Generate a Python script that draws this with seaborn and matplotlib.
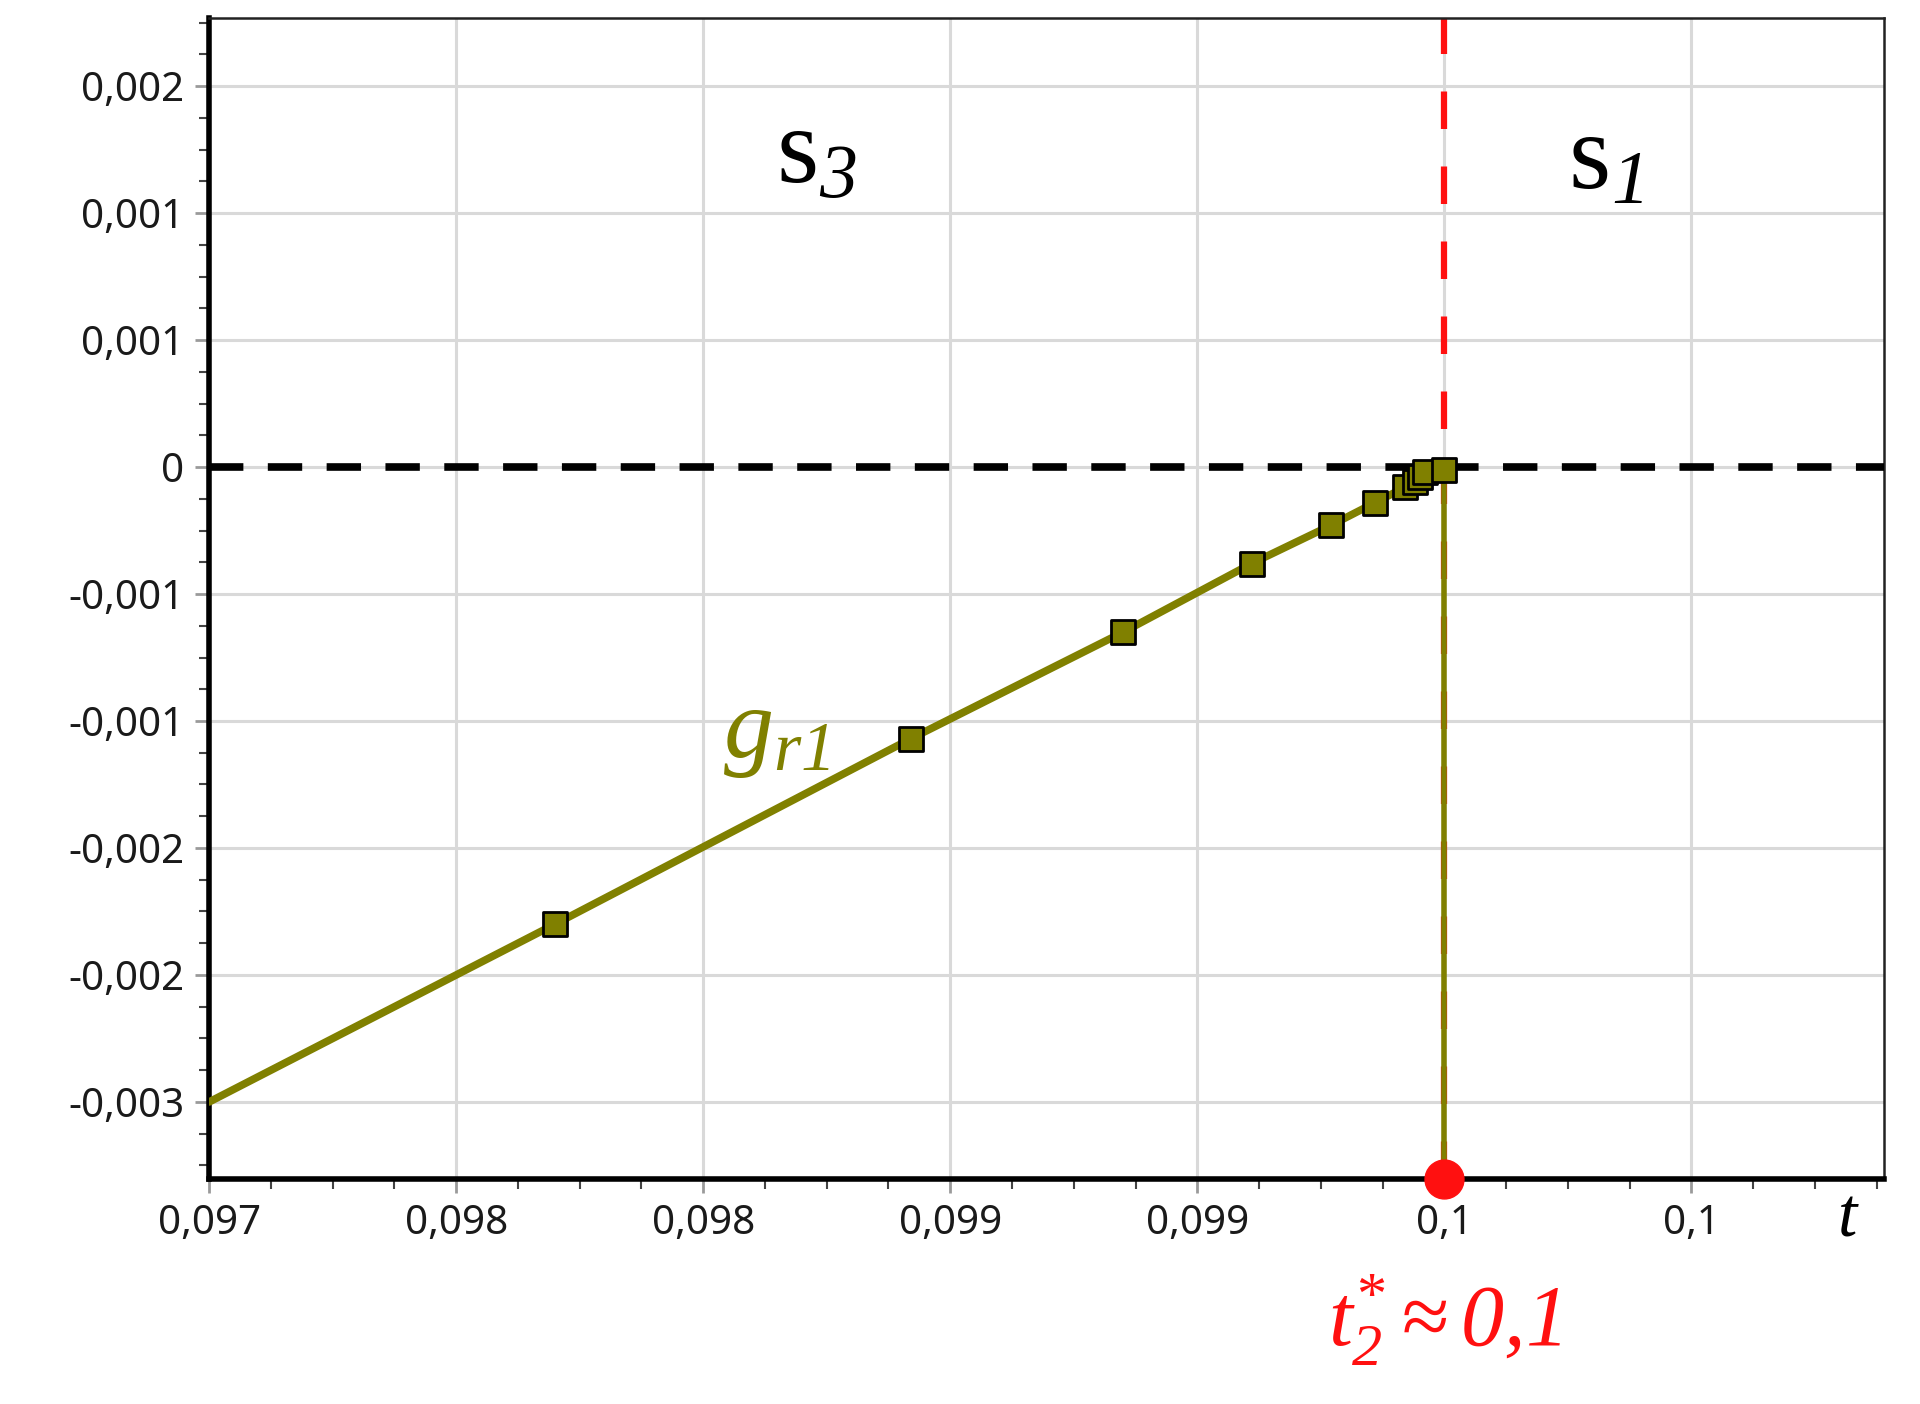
from decimal import Decimal, ROUND_HALF_UP

import numpy as np
import pandas as pd
import matplotlib
matplotlib.use("Agg")
import matplotlib.pyplot as plt
import seaborn as sns
from matplotlib.ticker import MultipleLocator, AutoMinorLocator, FuncFormatter

# iterates of g_r1 on the way to the switching time t2*
t_iter = [0.09770, 0.09842, 0.09885, 0.09911, 0.09927, 0.09936,
          0.09942, 0.09944, 0.09945, 0.09946, 0.09950]
g_iter = [-0.00180, -0.00107, -0.00065, -0.00038, -0.00023, -0.00014,
          -0.00008, -0.00006, -0.00004, -0.00002, -0.00001]

# the line g_r1 itself (start point, iterates, root)
t_line = [0.09700] + t_iter + [0.09950]
g_line = [-0.00250] + g_iter + [0.0]

t_star = 0.09950
x_min, x_max = 0.09700, 0.10039
y_min, y_max = -0.002803, 0.001768

olive = "#808000"
red = "#ff1010"

sns.set_theme(style="whitegrid")
plt.rcParams["font.family"] = ["Noto Sans", "DejaVu Sans"]
plt.rcParams["mathtext.fontset"] = "custom"
plt.rcParams["mathtext.rm"] = "Liberation Serif"
plt.rcParams["mathtext.it"] = "Liberation Serif:italic"
# italic digits: mathtext renders digits of \mathit upright, so use sf slot
plt.rcParams["mathtext.sf"] = "Liberation Serif:italic"


def fmt(v, pos=None):
    d = Decimal(str(round(float(v), 10))).quantize(Decimal("0.001"), rounding=ROUND_HALF_UP)
    if d == 0:
        return "0"
    s = format(d.normalize(), "f")
    return s.replace(".", ",")


fig = plt.figure(figsize=(19.2, 14.04), dpi=100)
ax = fig.add_axes([0.1089, 0.1603, 0.8724, 0.8269])
ax.set_facecolor("white")

# switching line and zero level
ax.axvline(t_star, color=red, linewidth=4.5, dashes=(6, 6), zorder=2)
ax.axhline(0, color="black", linewidth=5.5, dashes=(4.5, 3.2), zorder=3)

line_df = pd.DataFrame({"t": t_line, "g": g_line})
sns.lineplot(data=line_df, x="t", y="g", sort=False, color=olive,
             linewidth=5.5, ax=ax, zorder=4)
ax.plot([t_star, t_star], [0, y_min], color=olive, linewidth=4, zorder=4)

iter_df = pd.DataFrame({"t": t_iter, "g": g_iter})
sns.scatterplot(data=iter_df, x="t", y="g", marker="s", s=300, color=olive,
                edgecolor="black", linewidth=2, ax=ax, zorder=5)

ax.plot([t_star], [y_min], marker="o", markersize=28, color=red,
        clip_on=False, zorder=6)

ax.set_xlabel("")
ax.set_ylabel("")

ax.set_xlim(x_min, x_max)
ax.set_ylim(y_min, y_max)
ax.xaxis.set_major_locator(MultipleLocator(0.0005))
ax.yaxis.set_major_locator(MultipleLocator(0.0005))
ax.xaxis.set_minor_locator(AutoMinorLocator(4))
ax.yaxis.set_minor_locator(AutoMinorLocator(4))
ax.xaxis.set_major_formatter(FuncFormatter(fmt))
ax.yaxis.set_major_formatter(FuncFormatter(fmt))

ax.grid(True, which="major", color="#d9d9d9", linewidth=2.2)
ax.grid(False, which="minor")

ax.tick_params(axis="both", which="major", direction="out", length=10, width=2,
               color="#9a9a9a", labelsize=29, labelcolor="#1a1a1a", pad=8)
ax.tick_params(axis="both", which="minor", direction="out", length=7, width=1.5,
               color="#444444")
ax.tick_params(axis="x", which="both", bottom=True)
ax.tick_params(axis="y", which="both", left=True)

for side in ["left", "bottom"]:
    ax.spines[side].set_color("black")
    ax.spines[side].set_linewidth(4)
for side in ["top", "right"]:
    ax.spines[side].set_color("#222222")
    ax.spines[side].set_linewidth(1.8)

ax.text(0.098229, 0.001228, r"$\mathrm{s}_{\mathsf{3}}$", fontsize=78,
        ha="center", va="center", color="black")
ax.text(0.099826, 0.001210, r"$\mathrm{s}_{\mathsf{1}}$", fontsize=78,
        ha="center", va="center", color="black")
ax.text(0.098148, -0.001039, r"$g_{r\mathsf{1}}$", fontsize=72,
        ha="center", va="center", color=olive)

xt = ax.get_xaxis_transform()
ax.text(0.100316, -0.035, "t", fontsize=50, family="Liberation Serif",
        style="italic", ha="center", va="center", color="black",
        transform=xt, clip_on=False)
ax.text(t_star, -0.122, r"$t^{*}_{\mathsf{2}}\approx\mathsf{0{,}1}$",
        fontsize=62, ha="center", va="center", color=red,
        transform=xt, clip_on=False)

fig.savefig("out.png", dpi=100, facecolor="white")
